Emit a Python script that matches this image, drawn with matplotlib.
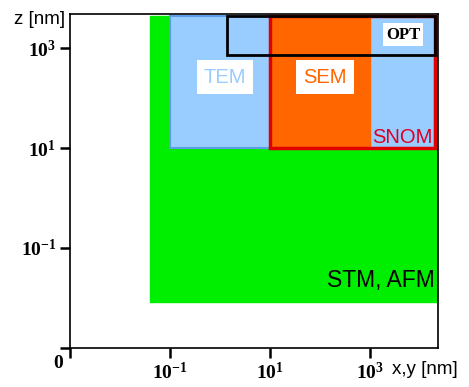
import matplotlib
matplotlib.use("Agg")
import matplotlib.pyplot as plt
from matplotlib.patches import Rectangle

# resolution ranges of microscopy methods: lateral x,y and vertical z in nm
methods = ["STM, AFM", "TEM", "SEM", "SNOM", "OPT"]
x_lo = [0.04, 0.1, 10, 10, 1.35]
x_hi = [2.2e4, 2e4, 1e3, 2e4, 2e4]
z_lo = [0.0085, 10, 10, 10, 720]
z_hi = [4.4e3, 4.4e3, 4.4e3, 4.4e3, 4.4e3]

tick_vals = [1e-1, 1e1, 1e3]
tick_labels = [r"$\mathbf{10^{-1}}$", r"$\mathbf{10^{1}}$", r"$\mathbf{10^{3}}$"]


def main():
    plt.rcParams["font.family"] = "Liberation Sans"
    plt.rcParams["mathtext.fontset"] = "custom"
    plt.rcParams["mathtext.rm"] = "Liberation Serif"
    plt.rcParams["mathtext.bf"] = "Liberation Serif:bold"

    fig = plt.figure(figsize=(4.69, 3.87), dpi=100)
    ax = fig.add_axes([0.1493, 0.1008, 0.7846, 0.863])
    ax.set_xscale("log")
    ax.set_yscale("log")
    ax.set_xlim(1e-3, 10 ** 4.36)
    ax.set_ylim(1e-3, 10 ** 3.68)

    faces = ["#00ee00", "#99ccff", "#ff6600", "none", "none"]
    edges = ["#00ee00", "#5c9ee6", "#ff6600", "#e00000", "black"]
    widths = [1, 1.5, 1, 2.5, 2]
    for i in range(len(methods)):
        ax.add_patch(Rectangle((x_lo[i], z_lo[i]), x_hi[i] - x_lo[i], z_hi[i] - z_lo[i],
                               facecolor=faces[i], edgecolor=edges[i], linewidth=widths[i]))

    box = dict(facecolor="white", edgecolor="none", boxstyle="square,pad=0.35")
    ax.text(10 ** 0.1, 10 ** 2.42, "TEM", color="#99ccff", fontsize=14.5,
            ha="center", va="center", bbox=box)
    ax.text(10 ** 2.1, 10 ** 2.42, "SEM", color="#ff6600", fontsize=14.5,
            ha="center", va="center", bbox=box)
    ax.text(10 ** 3.66, 10 ** 3.27, "OPT", color="black", fontsize=12,
            family="Liberation Serif", weight="bold", ha="center", va="center",
            bbox=dict(facecolor="white", edgecolor="none", boxstyle="square,pad=0.2"))
    ax.text(10 ** 4.26, 10 ** 1.22, "SNOM", color="#dd0022", fontsize=14.5,
            ha="right", va="center")
    ax.text(10 ** 4.3, 10 ** -1.66, "STM, AFM", color="black", fontsize=16.5,
            ha="right", va="center")

    ax.set_xticks([1e-3] + tick_vals, [""] + tick_labels)
    ax.set_yticks([1e-3] + tick_vals, [""] + tick_labels)
    ax.minorticks_off()
    ax.tick_params(direction="out", length=7, width=1.8, labelsize=14, pad=3)
    for s in ax.spines.values():
        s.set_linewidth(1.2)

    fig.text(70 / 469 - 0.025, 1 - 364 / 387, r"$\mathbf{0}$", fontsize=14,
             ha="center", va="center")
    fig.text(40 / 469, 1 - 19 / 387, "z [nm]", fontsize=13.5, ha="center", va="center")
    fig.text(425 / 469, 1 - 370 / 387, "x,y [nm]", fontsize=13.5, ha="center", va="center")

    fig.savefig("out.png", dpi=100)


if __name__ == "__main__":
    main()
